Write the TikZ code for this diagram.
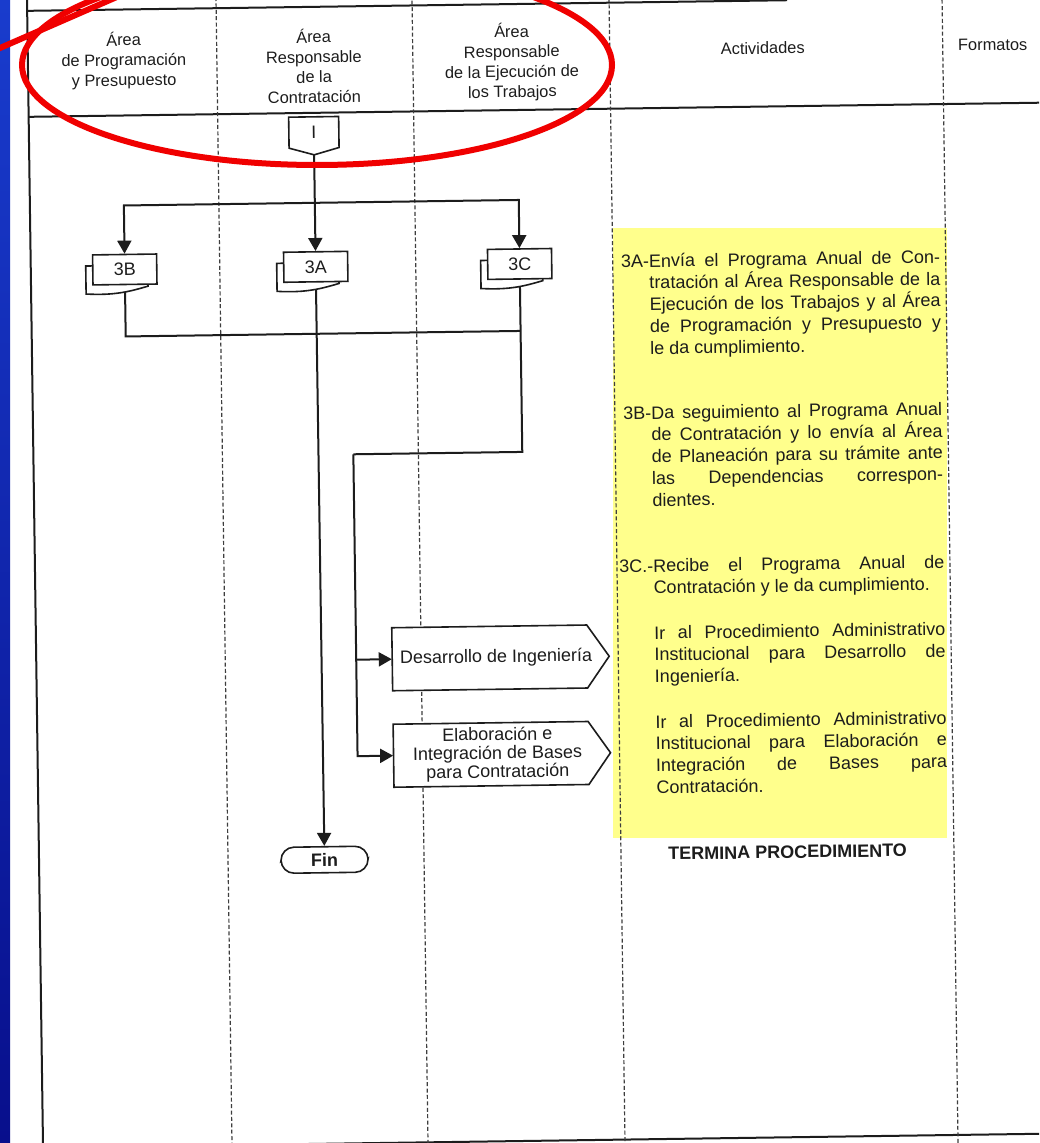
\documentclass[tikz,border=0pt]{standalone}
\usepackage{fontspec}
\setmainfont{Liberation Sans}
\usetikzlibrary{arrows.meta,calc}
\definecolor{ink}{RGB}{28,28,28}
\definecolor{hl}{RGB}{255,255,140}
\definecolor{redpen}{RGB}{240,0,0}
\definecolor{bluetop}{RGB}{25,60,205}
\definecolor{bluemid}{RGB}{20,70,230}
\definecolor{bluebot}{RGB}{8,15,140}
\hbadness=10000
\newcommand\jline[1]{\hbox to 145.5pt{#1}}
\newcommand\lline[1]{\hbox{#1}}
\newcommand\mydocback[1]{\draw[boxline,fill=white] ($(#1)+(-39,-4)$) -- ($(#1)+(-39,24)$) .. controls ($(#1)+(-10,26)$) and ($(#1)+(5,22)$) .. ($(#1)+(23,17)$) -- ($(#1)+(23,15)$) -- ($(#1)+(-32,-4)$) -- cycle;}
\newcommand\myprocshape[1]{\draw[boxline,fill=white] ($(#1)+(-104,-31.5)$) -- ($(#1)+(91,-31.5)$) -- ($(#1)+(113,0)$) -- ($(#1)+(91,31.5)$) -- ($(#1)+(-104,31.5)$) -- cycle;}
\begin{document}
\begin{tikzpicture}[x=0.5pt,y=-0.5pt,
 frameline/.style={draw=ink,line width=1pt},
 divline/.style={draw=ink!85,line width=0.6pt,dash pattern=on 2pt off 1.2pt},
 boxline/.style={draw=ink,line width=0.8pt},
 conn/.style={draw=ink,line width=1pt},
 arrowed/.style={-{Triangle[length=6.5pt,width=7pt]}},
 hdr/.style={text=ink,align=center,font=\fontsize{8.2pt}{10pt}\selectfont,inner sep=0pt},
 body/.style={text=ink,anchor=base west,inner sep=0pt,font=\fontsize{9pt}{10.9pt}\selectfont},
 docfront/.style={boxline,fill=white,minimum width=32pt,minimum height=15pt,inner sep=0pt,text=ink,font=\fontsize{9pt}{10.9pt}\selectfont},
 conbox/.style={minimum width=25pt,minimum height=15.5pt,inner sep=0pt,text=ink,font=\fontsize{9pt}{10.9pt}\selectfont},
 procnode/.style={minimum width=104pt,minimum height=31.5pt,inner sep=0pt,align=center,text=ink,font=\fontsize{9pt}{9.3pt}\selectfont},
 finnode/.style={boxline,fill=white,rounded corners=6.5pt,minimum width=43.5pt,minimum height=13pt,inner sep=0pt,text=ink,font=\bfseries\fontsize{9pt}{10.9pt}\selectfont},
]
\useasboundingbox (0,0) rectangle (1039,1143);
\clip (0,0) rectangle (1039,1143);
\fill[white] (0,0) rectangle (1039,1143);
\shade[top color=bluetop, middle color=bluemid, bottom color=bluebot] (0,0) rectangle (10,1143);
\fill[hl] (613,228) rectangle (947,838);

\begin{scope}[rotate around={0.8:(520,570)}, transform shape]
 % frame
 \draw[frameline] (35,-20) -- (35,1160);
 \draw[frameline] (35,4) -- (795,4);
 \draw[frameline] (35,110) -- (1100,110);
 \draw[frameline] (35,1141) -- (1100,1141);
 \foreach \x in {224,420,617,950} \draw[divline] (\x,-20) -- (\x,1160);

 % headers
 \node[hdr] (hA) at (131,55) {Área\\de Programación\\y Presupuesto};
 \node[hdr] (hB) at (321,63) {Área\\Responsable\\de la\\Contratación};
 \node[hdr] (hC) at (519,62) {Área\\Responsable\\de la Ejecución de\\los Trabajos};
 \node[hdr] (hAct) at (770,51.5) {Actividades};
 \node[hdr] (hFor) at (1000,51.5) {Formatos};

 % connector I
 \coordinate (cI) at (320,129.5);
 \draw[boxline,fill=white] ($(cI)+(-25,-15.5)$) -- ($(cI)+(25,-15.5)$) -- ($(cI)+(25,15.5)$) -- ($(cI)+(0,22.5)$) -- ($(cI)+(-25,15.5)$) -- cycle;
 \node[conbox] (conI) at (cI) {I};
 \coordinate (Itip) at ($(cI)+(0,22.5)$);

 % documents
 \coordinate (c3B) at (129,264);
 \coordinate (c3A) at (320,264);
 \coordinate (c3C) at (524,264);
 \mydocback{c3B}
 \mydocback{c3A}
 \mydocback{c3C}
 \node[docfront] (b3B) at (c3B) {3B};
 \node[docfront] (b3A) at (c3A) {3A};
 \node[docfront] (b3C) at (c3C) {3C};

 % process boxes
 \coordinate (cdes) at (495,657.5);
 \coordinate (celab) at (495,754);
 \myprocshape{cdes}
 \myprocshape{celab}
 \node[procnode] (des) at (cdes) {Desarrollo de Ingeniería};
 \node[procnode] (elab) at (celab) {Elaboración e\\Integración de Bases\\para Contratación};

 % terminator
 \node[finnode] (fin) at (320.5,857) {Fin};

 % connectors
 \coordinate (br) at (320,200);
 \coordinate (jn) at (524,331);
 \coordinate (tt) at (355,452);
 \draw[conn,arrowed] (Itip) -- (b3A.north);
 \draw[conn,arrowed] (br) -| (b3B.north);
 \draw[conn,arrowed] (br) -| (b3C.north);
 \draw[conn] ($(b3B.south)+(0,7)$) |- (jn);
 \draw[conn] ($(b3C.south)+(0,7)$) |- (tt);
 \draw[conn,arrowed] (tt) |- (elab.west);
 \draw[conn,arrowed] (tt |- des.west) -- (des.west);
 \draw[conn,arrowed] ($(b3A.south)+(0,7)$) -- (fin.north);

 % activities text
 \node[body] (t3A) at (653,269) {\vtop{\hsize=145.5pt
  \jline{\llap{3A-}Envía el Programa Anual de Con-}
  \jline{tratación al Área Responsable de la}
  \jline{Ejecución de los Trabajos y al Área}
  \jline{de Programación y Presupuesto y}
  \lline{le da cumplimiento.}}};
 \node[body] (t3B) at (653,421) {\vtop{\hsize=145.5pt
  \jline{\llap{3B-}Da seguimiento al Programa Anual}
  \jline{de Contratación y lo envía al Área}
  \jline{de Planeación para su trámite ante}
  \jline{las Dependencias correspon-}
  \lline{dientes.}}};
 \node[body] (t3C) at (653,574) {\vtop{\hsize=145.5pt
  \jline{\llap{3C.-}Recibe el Programa Anual de}
  \lline{Contratación y le da cumplimiento.}}};
 \node[body] (tIr1) at (653,641) {\vtop{\hsize=145.5pt
  \jline{Ir al Procedimiento Administrativo}
  \jline{Institucional para Desarrollo de}
  \lline{Ingeniería.}}};
 \node[body] (tIr2) at (653,730) {\vtop{\hsize=145.5pt
  \jline{Ir al Procedimiento Administrativo}
  \jline{Institucional para Elaboración e}
  \jline{Integración de Bases para}
  \lline{Contratación.}}};
 \node[text=ink,inner sep=0pt,font=\bfseries\fontsize{9pt}{10.9pt}\selectfont] (tEnd) at (783.6,855.7) {TERMINA PROCEDIMIENTO};
\end{scope}

% red hand-drawn ellipse
\draw[redpen, line width=3pt] (317,65) ellipse [x radius=295, y radius=100];
\draw[redpen, line width=3pt, line cap=round] (-5,50.2) -- (118,-3.5);
\end{tikzpicture}
\end{document}
